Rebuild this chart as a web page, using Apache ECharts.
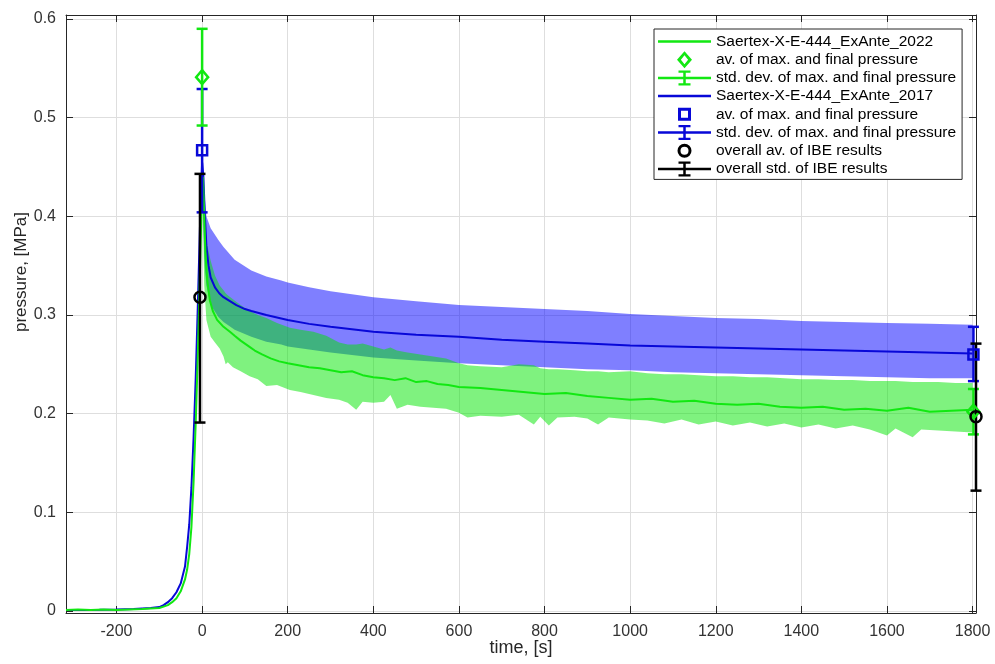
<!DOCTYPE html>
<html>
<head>
<meta charset="utf-8">
<script src="https://cdn.jsdelivr.net/npm/echarts@6/dist/echarts.min.js"></script>
<style>html,body{margin:0;padding:0;background:#fff}#chart{width:995px;height:664px}</style>
</head>
<body>
<div id="chart"></div>
<script>
// ---------- tick labels ----------
const xTickValues = [-200, 0, 200, 400, 600, 800, 1000, 1200, 1400, 1600, 1800];
const yTickValues = [0, 0.1, 0.2, 0.3, 0.4, 0.5, 0.6];

// ---------- Saertex-X-E-444_ExAnte_2017 (blue) mean curve ----------
const blueTime = [-318,-280,-240,-200,-160,-140,-120,-100,-90,-80,-70,-60,-50,-40,-35,-30,-25,-20,-15,-10,-5,0,3,6,10,15,20,30,40,50,65,80,100,115,150,200,250,300,400,500,600,700,800,900,1000,1100,1200,1300,1400,1500,1600,1700,1800];
const blueMean = [0.001,0.001,0.0012,0.0015,0.002,0.0025,0.003,0.004,0.006,0.009,0.013,0.019,0.028,0.045,0.065,0.088,0.125,0.175,0.235,0.31,0.39,0.455,0.44,0.405,0.37,0.35,0.338,0.328,0.322,0.318,0.314,0.31,0.306,0.304,0.3,0.295,0.291,0.288,0.283,0.28,0.278,0.275,0.273,0.271,0.269,0.268,0.267,0.266,0.265,0.264,0.263,0.262,0.261];

// blue std band
const blueBandTime = [2,6,10,20,38,50,76,115,150,185,200,250,300,400,500,600,700,800,900,1000,1100,1200,1300,1400,1500,1600,1700,1800];
const blueUpper = [0.45,0.42,0.40,0.388,0.376,0.369,0.356,0.345,0.339,0.335,0.333,0.328,0.324,0.318,0.314,0.31,0.308,0.306,0.304,0.301,0.299,0.297,0.296,0.294,0.293,0.292,0.291,0.29];
const blueLower = [0.40,0.35,0.33,0.31,0.298,0.293,0.285,0.278,0.273,0.27,0.268,0.265,0.262,0.257,0.254,0.251,0.249,0.247,0.245,0.244,0.242,0.241,0.24,0.239,0.238,0.237,0.236,0.236];

// ---------- Saertex-X-E-444_ExAnte_2022 (green) mean curve ----------
const greenTime = [-318,-290,-260,-230,-200,-170,-140,-120,-100,-90,-80,-70,-60,-50,-40,-35,-30,-25,-20,-15,-10,-5,0,2,5,8,12,18,25,35,50,65,76,90,110,123,140,160,180,200,225,250,275,300,325,350,375,400,425,450,475,500,525,550,575,600,650,700,750,800,850,900,950,1000,1050,1100,1150,1200,1250,1300,1350,1400,1450,1500,1550,1600,1650,1700,1750,1800];
const greenMean = [0.001,0.0015,0.001,0.0015,0.001,0.0015,0.002,0.0025,0.003,0.0045,0.006,0.009,0.013,0.02,0.032,0.042,0.058,0.085,0.13,0.19,0.26,0.345,0.43,0.44,0.40,0.36,0.335,0.315,0.304,0.295,0.288,0.283,0.279,0.274,0.268,0.264,0.26,0.256,0.253,0.251,0.249,0.247,0.246,0.244,0.242,0.243,0.239,0.237,0.236,0.234,0.236,0.232,0.233,0.23,0.229,0.227,0.226,0.224,0.222,0.22,0.221,0.218,0.216,0.214,0.215,0.212,0.213,0.21,0.209,0.21,0.207,0.206,0.207,0.204,0.205,0.203,0.206,0.202,0.203,0.204];

// green std band
const greenBandTime = [2,5,10,20,30,41,50,55,60,72,90,111,130,150,175,205,230,260,290,320,340,360,375,400,425,440,455,480,510,540,570,600,620,650,700,740,775,790,810,830,870,900,925,950,1000,1040,1080,1120,1160,1200,1240,1280,1320,1360,1400,1440,1480,1520,1560,1600,1620,1660,1680,1720,1760,1800];
const greenUpper = [0.44,0.41,0.375,0.355,0.34,0.33,0.325,0.322,0.32,0.316,0.31,0.304,0.3,0.297,0.292,0.287,0.285,0.283,0.279,0.272,0.27,0.27,0.271,0.268,0.265,0.267,0.264,0.262,0.26,0.258,0.256,0.251,0.249,0.248,0.247,0.25,0.249,0.246,0.245,0.245,0.244,0.243,0.243,0.242,0.243,0.241,0.24,0.24,0.239,0.238,0.238,0.237,0.237,0.236,0.235,0.235,0.234,0.234,0.233,0.233,0.233,0.232,0.232,0.232,0.231,0.231];
const greenLower = [0.40,0.33,0.295,0.278,0.272,0.266,0.258,0.25,0.252,0.247,0.243,0.238,0.235,0.228,0.229,0.224,0.222,0.219,0.216,0.214,0.211,0.204,0.212,0.211,0.212,0.219,0.205,0.209,0.207,0.206,0.205,0.201,0.196,0.198,0.197,0.199,0.189,0.197,0.188,0.196,0.197,0.195,0.189,0.196,0.194,0.193,0.19,0.194,0.189,0.192,0.188,0.191,0.187,0.19,0.186,0.189,0.185,0.188,0.184,0.178,0.185,0.176,0.184,0.183,0.182,0.181];

// ---------- averages and std. deviations (max. and final pressure) ----------
const errTime2022 = [0, 1802];
const avg2022 = [0.541, 0.202];
const lo2022 = [0.492, 0.179];
const hi2022 = [0.590, 0.225];

const errTime2017 = [0, 1802];
const avg2017 = [0.467, 0.260];
const lo2017 = [0.404, 0.233];
const hi2017 = [0.529, 0.288];

const errTimeIBE = [-5, 1808];
const avgIBE = [0.318, 0.197];
const loIBE = [0.191, 0.122];
const hiIBE = [0.443, 0.271];

// ---------- legend labels ----------
const legendLabels = {
  l2022: 'Saertex-X-E-444_ExAnte_2022',
  a2022: 'av. of max. and final pressure',
  e2022: 'std. dev. of max. and final pressure',
  l2017: 'Saertex-X-E-444_ExAnte_2017',
  a2017: 'av. of max. and final pressure',
  e2017: 'std. dev. of max. and final pressure',
  aIBE: 'overall av. of IBE results',
  eIBE: 'overall std. of IBE results'
};

const GREEN = '#12e812';
const BLUE = '#0808d8';
const BLACK = '#000000';
const FONT = '"Liberation Sans", Arial, Helvetica, sans-serif';

const zip = (a, b) => a.map((v, i) => [v, b[i]]);

function bandSeries(name, times, lower, upper, fill) {
  return {
    type: 'custom', name: name, silent: true,
    data: times.map((t, i) => [t, lower[i], upper[i]]),
    encode: { x: 0, y: [1, 2] },
    renderItem: function (params, api) {
      if (params.dataIndex !== 0) return null;
      const up = times.map((t, i) => api.coord([t, upper[i]]));
      const lo = times.map((t, i) => api.coord([t, lower[i]])).reverse();
      return { type: 'polygon', shape: { points: up.concat(lo) }, style: { fill: fill } };
    },
    z: 1
  };
}

function errSeries(name, times, lo, hi, color) {
  return {
    type: 'custom', name: name, silent: true,
    itemStyle: { color: color },
    data: times.map((t, i) => [t, lo[i], hi[i]]),
    encode: { x: 0, y: [1, 2] },
    renderItem: function (params, api) {
      const x = api.value(0);
      const a = api.coord([x, api.value(1)]);
      const b = api.coord([x, api.value(2)]);
      const hw = 5.5;
      const st = () => ({ stroke: color, lineWidth: 2.5, fill: null });
      return { type: 'group', children: [
        { type: 'line', shape: { x1: a[0], y1: a[1], x2: b[0], y2: b[1] }, style: st() },
        { type: 'line', shape: { x1: a[0] - hw, y1: a[1], x2: a[0] + hw, y2: a[1] }, style: st() },
        { type: 'line', shape: { x1: b[0] - hw, y1: b[1], x2: b[0] + hw, y2: b[1] }, style: st() }
      ]};
    },
    z: 3
  };
}

function lineSeries(name, times, vals, color) {
  return {
    type: 'line', name: name, data: zip(times, vals), showSymbol: false, symbol: 'none',
    lineStyle: { color: color, width: 2 }, itemStyle: { color: color }, silent: true, z: 2
  };
}

// hollow markers drawn at data coordinates
function avgSeries(name, times, vals, color, shape) {
  return {
    type: 'custom', name: name, silent: true,
    itemStyle: { color: color },
    data: zip(times, vals),
    encode: { x: 0, y: 1 },
    renderItem: function (params, api) {
      const p = api.coord([api.value(0), api.value(1)]);
      const style = { stroke: color, lineWidth: 2.5, fill: null };
      if (shape === 'diamond') {
        return { type: 'polygon', shape: { points: [[p[0], p[1] - 7], [p[0] + 6, p[1]], [p[0], p[1] + 7], [p[0] - 6, p[1]]] }, style: style };
      }
      if (shape === 'square') {
        return { type: 'rect', shape: { x: p[0] - 5, y: p[1] - 5, width: 10, height: 10 }, style: style };
      }
      return { type: 'circle', shape: { cx: p[0], cy: p[1], r: 5.5 }, style: style };
    },
    z: 4
  };
}

const CORNERS = ' M0,0h0.01v0.01z M53,17h-0.01v-0.01z';
const ICON_LINE = 'path://M0,7.25H53V9.75H0Z' + CORNERS;
const ICON_ERR = 'path://M0,7.25H53V9.75H0Z M25.25,2H27.75V15H25.25Z M20.5,1H32.5V3.25H20.5Z M20.5,13.75H32.5V16H20.5Z' + CORNERS;
const ICON_DIAMOND = 'path://M26.5,0L34,8.5L26.5,17L19,8.5Z M26.5,4L22.9,8.5L26.5,13L30.1,8.5Z' + CORNERS;
const ICON_SQUARE = 'path://M20,2H33V15H20Z M23,5V12H30V5Z' + CORNERS;
const ICON_CIRCLE = 'path://M19.5,8.5A7,7 0 1,1 33.5,8.5A7,7 0 1,1 19.5,8.5Z M22.5,8.5A4,4 0 1,0 30.5,8.5A4,4 0 1,0 22.5,8.5Z' + CORNERS;

function axisCommon(extra) {
  return Object.assign({
    type: 'value',
    axisLine: { show: true, onZero: false, lineStyle: { color: '#262626', width: 1 } },
    axisTick: { show: true, inside: true, length: 7, lineStyle: { color: '#262626', width: 1 } },
    splitLine: { show: false },
    axisLabel: { show: false }
  }, extra);
}

const chart = echarts.init(document.getElementById('chart'), null, { renderer: 'canvas' });
chart.setOption({
  animation: false,
  backgroundColor: '#ffffff',
  grid: { left: 66, right: 19, top: 15, bottom: 51, containLabel: false, outerBoundsMode: 'none' },
  legend: {
    orient: 'vertical', left: 654, top: 29,
    padding: [4, 6, 2, 4],
    itemWidth: 53, itemHeight: 17, itemGap: 1.2,
    backgroundColor: '#ffffff', borderColor: '#262626', borderWidth: 1, borderRadius: 0,
    selectedMode: false,
    textStyle: { fontSize: 15.5, color: '#000', fontFamily: FONT },
    formatter: name => legendLabels[name],
    data: [
      { name: 'l2022', icon: ICON_LINE, itemStyle: { color: GREEN, borderWidth: 0 } },
      { name: 'a2022', icon: ICON_DIAMOND, itemStyle: { color: GREEN, borderWidth: 0 } },
      { name: 'e2022', icon: ICON_ERR, itemStyle: { color: GREEN, borderWidth: 0 } },
      { name: 'l2017', icon: ICON_LINE, itemStyle: { color: BLUE, borderWidth: 0 } },
      { name: 'a2017', icon: ICON_SQUARE, itemStyle: { color: BLUE, borderWidth: 0 } },
      { name: 'e2017', icon: ICON_ERR, itemStyle: { color: BLUE, borderWidth: 0 } },
      { name: 'aIBE', icon: ICON_CIRCLE, itemStyle: { color: BLACK, borderWidth: 0 } },
      { name: 'eIBE', icon: ICON_ERR, itemStyle: { color: BLACK, borderWidth: 0 } }
    ]
  },
  xAxis: [
    axisCommon({
      position: 'bottom', min: -318, max: 1808,
      axisTick: { show: true, inside: true, length: 7, customValues: xTickValues, lineStyle: { color: '#262626', width: 1 } },
      axisLabel: { show: true, customValues: xTickValues, fontSize: 16, color: '#333', margin: 11, fontFamily: FONT,
        formatter: v => String(v) },
      splitLine: { show: true, lineStyle: { color: '#dedede', width: 1 } },
      name: 'time, [s]', nameLocation: 'middle', nameGap: 26, nameMoveOverlap: false,
      nameTextStyle: { fontSize: 18, color: '#262626', fontFamily: FONT }
    }),
    axisCommon({
      position: 'top', min: -318, max: 1808,
      axisTick: { show: true, inside: true, length: 7, customValues: xTickValues, lineStyle: { color: '#262626', width: 1 } }
    })
  ],
  yAxis: [
    axisCommon({
      position: 'left', min: -0.002, max: 0.604,
      axisTick: { show: true, inside: true, length: 7, customValues: yTickValues, lineStyle: { color: '#262626', width: 1 } },
      axisLabel: { show: true, customValues: yTickValues, fontSize: 16, color: '#333', margin: 10, fontFamily: FONT,
        formatter: v => String(Math.round(v * 10) / 10) },
      splitLine: { show: true, lineStyle: { color: '#dedede', width: 1 } },
      name: 'pressure, [MPa]', nameLocation: 'middle', nameGap: 36, nameRotate: 90, nameMoveOverlap: false,
      nameTextStyle: { fontSize: 17, color: '#262626', fontFamily: FONT, padding: [0, 0, 0, 84] }
    }),
    axisCommon({
      position: 'right', min: -0.002, max: 0.604,
      axisTick: { show: true, inside: true, length: 7, customValues: yTickValues, lineStyle: { color: '#262626', width: 1 } }
    })
  ],
  series: [
    bandSeries('band2017', blueBandTime, blueLower, blueUpper, 'rgba(0,0,255,0.5)'),
    lineSeries('l2017', blueTime, blueMean, BLUE),
    bandSeries('band2022', greenBandTime, greenLower, greenUpper, 'rgba(0,230,0,0.5)'),
    lineSeries('l2022', greenTime, greenMean, GREEN),
    errSeries('e2017', errTime2017, lo2017, hi2017, BLUE),
    errSeries('e2022', errTime2022, lo2022, hi2022, GREEN),
    avgSeries('a2022', errTime2022, avg2022, GREEN, 'diamond'),
    avgSeries('a2017', errTime2017, avg2017, BLUE, 'square'),
    errSeries('eIBE', errTimeIBE, loIBE, hiIBE, BLACK),
    avgSeries('aIBE', errTimeIBE, avgIBE, BLACK, 'circle')
  ]
});
</script>
</body>
</html>
